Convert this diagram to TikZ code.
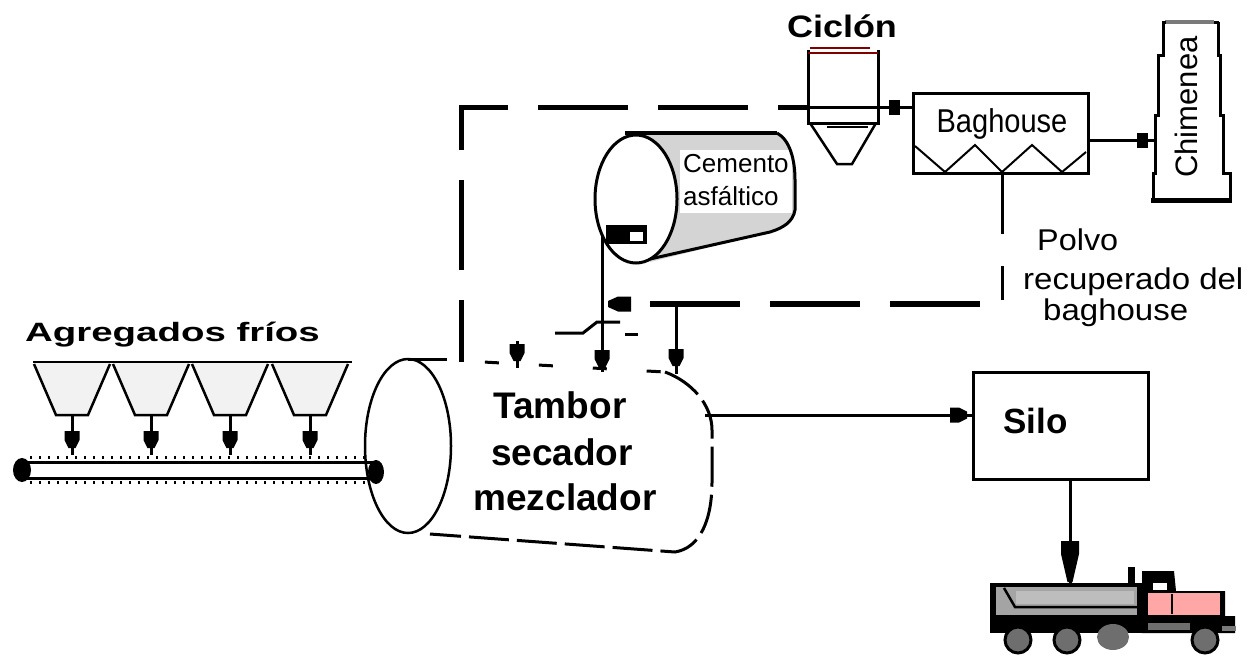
\documentclass[tikz,border=0pt]{standalone}
\usepackage{fontspec}
\setmainfont{Liberation Sans}
\usepackage{graphicx}
\usetikzlibrary{arrows.meta}

\definecolor{hopperfill}{HTML}{F2F2F2}
\definecolor{tankgray}{HTML}{D4D4D4}
\definecolor{cycred}{HTML}{800000}
\definecolor{bedgray}{HTML}{A4A4A4}
\definecolor{bedlight}{HTML}{BDBDBD}
\definecolor{wheelgray}{HTML}{6E6E6E}
\definecolor{cabpink}{HTML}{FFA6A6}
\definecolor{capgray}{HTML}{7A7A7A}

% text of a given size, stretched horizontally by a factor
\newcommand{\sizedtext}[3]{\scalebox{#2}[1]{\fontsize{#1}{#1}\selectfont #3}}

\tikzset{
  lbl/.style={inner sep=0pt, anchor=base west},
  gasline/.style={line width=5pt, dash pattern=on 90pt off 30pt, dash phase=28pt},
  dustline/.style={line width=6pt, dash pattern=on 90pt off 30pt},
  feed/.style={line width=3pt},
  box/.style={draw, line width=3pt, inner sep=0pt},
  sqarrow/.style={-{Square[width=15pt,length=11pt]}},
  % blocky flow heads, drawn pointing down with the tip at the origin
  headsmall/.pic={\fill (-7.5,-17) -- (7.5,-17) -- (7.5,-8) -- (3.5,0) -- (-3.5,0)
                   -- (-7.5,-8) -- cycle;},
  headdust/.pic={\fill (-7.5,-23) -- (7.5,-23) -- (7.5,-10) -- (3,0) -- (-3,0)
                   -- (-7.5,-10) -- cycle;},
  headbig/.pic={\fill (-9,-41) -- (9,-41) -- (9,-28) -- (2.5,0) -- (-2.5,0)
                   -- (-9,-28) -- cycle;},
}

\begin{document}
\begin{tikzpicture}[x=1pt,y=-1pt,line join=miter]
\useasboundingbox (0,0) rectangle (1252,657);

% ---------- connection points ----------
\coordinate (drumGas) at (461,362);
\coordinate (gasCorner) at (461,107);
\coordinate (cycIn) at (808,107);
\coordinate (cycOut) at (878,107);
\coordinate (cycTip) at (900,107);
\coordinate (chimIn) at (1155,140);
\coordinate (chimTip) at (1148,140);
\coordinate (bhDust) at (1002,174);
\coordinate (dustDrop) at (1002,300);
\coordinate (dustStart) at (980,304);
\coordinate (dustEnd) at (631,304);
\coordinate (dustTip) at (608,304);
\coordinate (dustTee) at (676,304);
\coordinate (teeTip) at (676,366);
\coordinate (drumDust) at (676,374);
\coordinate (valveOut) at (602,236);
\coordinate (cemTip) at (602,367);
\coordinate (drumCem) at (602,372);
\coordinate (recTop) at (517,341);
\coordinate (recTip) at (517,361);
\coordinate (recBot) at (517,368);
\coordinate (drumOut) at (705,415);
\coordinate (siloTip) at (967,415);
\coordinate (truckTop) at (1070,582);

% ---------- cold aggregate hoppers ----------
\node[lbl] (agregados) at (25,341)
  {\sizedtext{26.5}{1.45}{\bfseries Agregados fríos}};
\foreach \cx in {72,151,230,310} {
  \fill[hopperfill] (\cx-38,362) -- (\cx+38,362) -- (\cx+16,415) -- (\cx-16,415) -- cycle;
  \draw[line width=2.5pt] (\cx-38,364) -- (\cx-16,415) -- (\cx+16,415) -- (\cx+38,364);
  \draw[feed] (\cx,415) -- (\cx,455);
  \pic at (\cx,448) {headsmall};
}
\draw[line width=2pt] (33,362) -- (352,362);

% ---------- belt conveyor ----------
\fill[white] (25,462) rectangle (376,478);
\draw[line width=3pt] (25,462) -- (376,462);
\draw[line width=3pt] (25,478) -- (376,478);
\draw[line width=3pt, dash pattern=on 2pt off 7pt] (30,457.5) -- (370,457.5);
\draw[line width=3pt, dash pattern=on 2pt off 7pt] (30,482.5) -- (370,482.5);
\fill (22,470) ellipse [x radius=9pt, y radius=12pt];

% ---------- dryer drum ----------
\draw[line width=2.5pt] (408,446) ellipse [x radius=43pt, y radius=87pt];
\fill (376,472) ellipse [x radius=8pt, y radius=12pt];
\draw[line width=3pt] (408,359) -- (447,359);
\draw[line width=3pt, dash pattern=on 14pt off 40pt, dash phase=16pt] (447,360) -- (665,372);
\draw[line width=3pt, dash pattern=on 40pt off 8pt]
  (665,372) .. controls (692,382) and (712,405) .. (712,430) -- (712,482)
  .. controls (712,520) and (700,548) .. (675,552) -- (430,534);
\node[inner sep=0pt, anchor=base] (tambor) at (560,418) {\sizedtext{37}{1}{\bfseries Tambor}};
\node[inner sep=0pt, anchor=base] (secador) at (562,465) {\sizedtext{37}{1}{\bfseries secador}};
\node[inner sep=0pt, anchor=base] (mezclador) at (565,510) {\sizedtext{37}{1}{\bfseries mezclador}};

% ---------- asphalt cement tank ----------
\fill[tankgray] (636,135) -- (777,133) .. controls (790,140) and (795,160) .. (795,180)
  -- (795,210) .. controls (793,222) and (783,228) .. (770,232) -- (650,262) -- cycle;
\fill[white] (680,150) rectangle (792,213);
\draw[line width=4pt] (625,133) -- (777,133);
\draw[line width=3pt] (777,133) .. controls (790,140) and (795,160) .. (795,180)
  -- (795,210) .. controls (793,222) and (783,228) .. (770,232) -- (650,259);
\filldraw[fill=white, line width=3pt] (636,199) ellipse [x radius=41pt, y radius=64pt];
\node[lbl] (cemento) at (683,172) {\sizedtext{26}{1}{Cemento}};
\node[lbl] (asfaltico) at (683,205) {\sizedtext{26}{1}{asfáltico}};
\fill (606,225) rectangle (647,244);
\fill[white] (630,232) rectangle (643,241);

% ---------- cyclone ----------
\node[inner sep=0pt, anchor=base] (ciclon) at (842,37) {\sizedtext{31}{1.16}{\bfseries Ciclón}};
\draw[line width=3pt] (808,50) -- (808,123) -- (878,123) -- (878,50);
\draw[cycred, line width=2pt] (810,47.5) -- (870,47.5);
\draw[cycred, line width=2pt] (808,52.5) -- (878,52.5);
\draw[line width=2.5pt] (810,123) -- (837,164) -- (852,164) -- (876,123);
\draw[line width=2.5pt] (827,127) -- (868,127);
\draw[line width=3pt] (784,107) -- (cycOut);

% ---------- baghouse ----------
\node[box, minimum width=175pt, minimum height=80pt] (baghouse) at (1000.5,133) {};
\node[inner sep=0pt, anchor=base] (baghouselbl) at (1002,132) {\sizedtext{33}{0.88}{Baghouse}};
\draw[line width=2pt] (915,146) -- (945,172) -- (975,145) -- (1002,172) -- (1032,145)
  -- (1062,172) -- (1086,152);

% ---------- stack ----------
\draw[line width=3pt] (1163,22) -- (1163,55) -- (1158,55) -- (1158,115) -- (1155,115)
  -- (1155,173) -- (1153,173) -- (1153,200);
\draw[line width=3pt] (1218,22) -- (1218,55) -- (1220,55) -- (1220,115) -- (1223,115)
  -- (1223,173) -- (1230,173) -- (1230,200);
\draw[line width=5pt] (1151,200) -- (1232,200);
\draw[capgray, line width=4pt] (1165,22) -- (1214,22);
\draw[line width=3pt] (1162,22) -- (1166,22);
\draw[line width=3pt] (1214,22) -- (1219,22);
\node[inner sep=0pt, anchor=base, rotate=90] (chimenea) at (1197,107) {\sizedtext{31}{1}{Chimenea}};

% ---------- silo ----------
\node[box, minimum width=175pt, minimum height=107pt] (silo) at (1060.5,425.5) {};
\node[lbl] (silolbl) at (1003,433) {\sizedtext{35}{1}{\bfseries Silo}};

% ---------- recovered dust text ----------
\node[lbl] (polvo) at (1037,250) {\sizedtext{30}{1.08}{Polvo}};
\node[lbl] (recuperado) at (1023,289) {\sizedtext{30}{1.1}{recuperado del}};
\node[lbl] (baghousetxt) at (1043,320) {\sizedtext{30}{1.1}{baghouse}};

% ---------- gas and dust lines ----------
\draw[gasline] (drumGas) -- (gasCorner) -- (cycIn);
\draw[line width=3pt, sqarrow] (cycOut) -- (cycTip);
\draw[line width=3pt] ([xshift=-2pt]cycTip) -- (baghouse.west |- cycTip);
\draw[line width=3pt, sqarrow] (baghouse.east |- chimTip) -- (chimTip);
\draw[line width=3pt] ([xshift=-2pt]chimTip) -- (chimIn);
\draw[line width=3pt, dash pattern=on 60pt off 32pt] (bhDust) -- (dustDrop);
\draw[dustline] (dustStart) -- (dustEnd);
\pic[rotate=-90] at (dustTip) {headdust};
\draw[feed] (dustTee) -- (drumDust);
\pic at (teeTip) {headsmall};
\draw[line width=3pt] (555,333) -- (583,333) -- (597,322) -- (620,322);
\draw[line width=3pt] (625,334) -- (638,334);
\draw[feed] (recTop) -- (recBot);
\pic at (recTip) {headsmall};

% ---------- asphalt feed ----------
\draw[feed] (valveOut) -- (drumCem);
\pic at (cemTip) {headsmall};

% ---------- product to silo and truck ----------
\draw[feed] (drumOut) -- (drumOut -| silo.west);
\pic[rotate=90] at (siloTip) {headsmall};
\draw[feed] (silo.south -| truckTop) -- ([yshift=-8pt]truckTop);
\pic at (truckTop) {headbig};

% ---------- truck ----------
\fill (990,583) rectangle (1142,633);
\fill[bedgray] (996,587) rectangle (1137,615);
\fill[bedlight] (1016,591) rectangle (1134,604);
\draw[line width=2.5pt] (1004,588) -- (1015,607) -- (1137,607);
\fill (1128,567) rectangle (1135,585);
\fill (1142,571) -- (1174,571) -- (1176,591) -- (1225,591) -- (1225,616) -- (1235,616)
  -- (1235,633) -- (1142,633) -- cycle;
\fill[cabpink] (1148,593) rectangle (1220,615);
\fill[white] (1153,583) rectangle (1167,590);
\draw[line width=2pt] (1172,594) -- (1172,614);
\fill[wheelgray] (1148,623) rectangle (1190,630);
\fill[capgray] (1222,626) rectangle (1236,631);
\fill[wheelgray] (1113,637) ellipse [x radius=16pt, y radius=13pt];
\foreach \wx in {1018,1067,1205} {
  \filldraw[fill=wheelgray, line width=3pt] (\wx,640) circle [radius=13pt];
}
\end{tikzpicture}
\end{document}
